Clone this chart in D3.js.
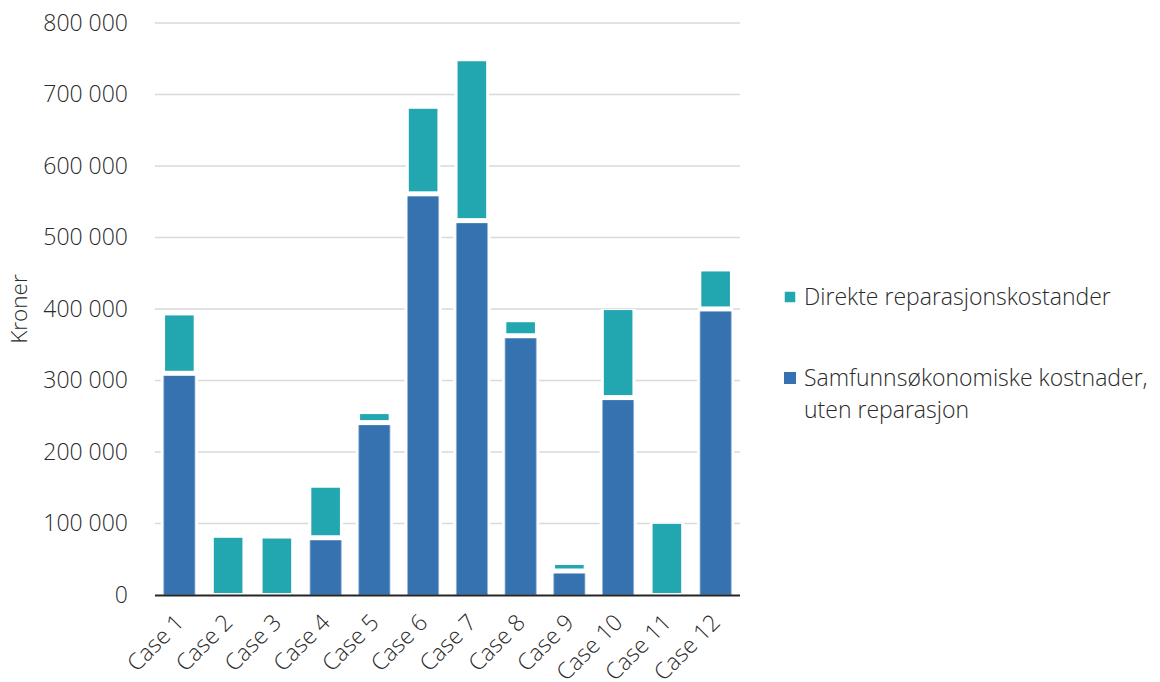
<!DOCTYPE html>
<html>
<head>
<meta charset="utf-8">
<script src="https://cdn.jsdelivr.net/npm/d3@7"></script>
<style>
  html, body { margin: 0; padding: 0; background: #fff; }
  svg { display: block; }
  text { font-family: "Open Sans", "Noto Sans", sans-serif; font-weight: 300; fill: #2a2a2a; }
</style>
</head>
<body>
<svg id="chart" width="1160" height="682"></svg>
<script>
// Cost per case, in kroner
const categories = ["Case 1", "Case 2", "Case 3", "Case 4", "Case 5", "Case 6",
                    "Case 7", "Case 8", "Case 9", "Case 10", "Case 11", "Case 12"];
// Socio-economic costs excluding repair (lower segment)
const samfunnValues = [308000, 0, 0, 78000, 239000, 559000, 521500, 360500, 31500, 274000, 0, 398000];
// Direct repair costs (upper segment)
const direkteValues = [83000, 80000, 79000, 72000, 14000, 121000, 225000, 21000, 10500, 124500, 99500, 54500];
const yTicks = [0, 100000, 200000, 300000, 400000, 500000, 600000, 700000, 800000];
const seriesNames = ["Direkte reparasjonskostander", "Samfunnsøkonomiske kostnader,|uten reparasjon"];
const colors = { samfunn: "#3672b0", direkte: "#22a6b0" };

const svg = d3.select("#chart");
const plot = { left: 155, right: 740, top: 23, bottom: 595 };

const x = d3.scaleBand().domain(categories).range([plot.left, plot.right]).paddingInner(0.36).paddingOuter(0.18);
const y = d3.scaleLinear().domain([0, 800000]).range([plot.bottom, plot.top]);

const fmt = v => d3.format(",")(v).replace(/,/g, " ");

// Horizontal gridlines
svg.append("g").selectAll("line").data(yTicks.filter(d => d > 0)).join("line")
  .attr("x1", plot.left).attr("x2", plot.right)
  .attr("y1", d => y(d)).attr("y2", d => y(d))
  .attr("stroke", "#d9d9d9").attr("stroke-width", 1.3);

// Y axis tick labels
const yAxis = svg.append("g").attr("transform", `translate(${plot.left},0)`)
  .call(d3.axisLeft(y).tickValues(yTicks).tickFormat(fmt).tickSize(0).tickPadding(27));
yAxis.select(".domain").remove();
yAxis.selectAll("text").attr("font-size", 23).attr("fill", "#2a2a2a")
  .style("font-family", '"Open Sans", sans-serif').style("font-weight", 300);

// Y axis title
svg.append("text").attr("transform", `translate(27,309) rotate(-90)`)
  .attr("text-anchor", "middle").attr("font-size", 22.5).text("Kroner");

// Stacked bars
const stackData = categories.map((c, i) => ({ cat: c, samfunn: samfunnValues[i], direkte: direkteValues[i] }));
const stack = d3.stack().keys(["samfunn", "direkte"])(stackData);
const gap = 4;

const bars = svg.append("g");
stack.forEach(layer => {
  const key = layer.key;
  const inset = key === "direkte" ? 1.3 : 0;
  // white halo interrupts gridlines around each segment
  bars.append("g").selectAll("rect").data(layer.filter(d => d[1] > d[0])).join("rect")
    .attr("x", d => x(d.data.cat) + inset - 3)
    .attr("width", x.bandwidth() - 2 * inset + 6)
    .attr("y", d => y(d[1]) - 1)
    .attr("height", d => Math.max(0, y(d[0]) - y(d[1]) + 2))
    .attr("fill", "#fff");
  bars.append("g").selectAll("rect").data(layer.filter(d => d[1] > d[0])).join("rect")
    .attr("x", d => x(d.data.cat) + inset)
    .attr("width", x.bandwidth() - 2 * inset)
    .attr("y", d => y(d[1]))
    .attr("height", d => {
      const bottom = key === "direkte" ? y(d[0]) - (d[0] > 0 ? gap : 2) : y(d[0]);
      return Math.max(0, bottom - y(d[1]));
    })
    .attr("fill", colors[key])
    .attr("stroke", key === "samfunn" ? "#9cb8d8" : "none")
    .attr("stroke-width", 0.8);
});

// Baseline
svg.append("line").attr("x1", plot.left).attr("x2", plot.right)
  .attr("y1", y(0) + 0.5).attr("y2", y(0) + 0.5)
  .attr("stroke", "#262626").attr("stroke-width", 2);

// Category labels, rotated
svg.append("g").selectAll("text").data(categories).join("text")
  .attr("transform", d => `translate(${x(d) + x.bandwidth() / 2 + 6},${plot.bottom + 29}) rotate(-45)`)
  .attr("text-anchor", "end").attr("font-size", 23).text(d => d);

// Legend
const legend = svg.append("g");
const legendItems = [
  { name: seriesNames[0], color: colors.direkte, y: 297, size: 10.5 },
  { name: seriesNames[1], color: colors.samfunn, y: 378, size: 12 }
];
legendItems.forEach(it => {
  legend.append("rect").attr("x", 790 - it.size / 2).attr("y", it.y - it.size / 2)
    .attr("width", it.size).attr("height", it.size).attr("fill", it.color);
  const lines = it.name.split("|");
  lines.forEach((ln, k) => {
    legend.append("text").attr("x", 804).attr("y", it.y + 8 + k * 32)
      .attr("font-size", 23).text(ln);
  });
});
</script>
</body>
</html>
